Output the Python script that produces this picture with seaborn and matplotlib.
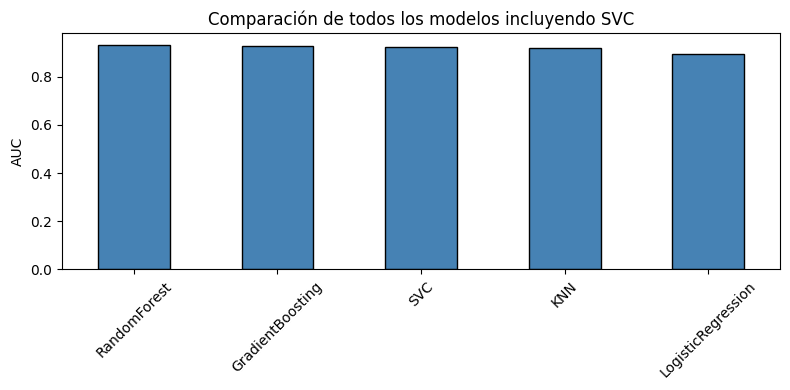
import matplotlib
matplotlib.use("Agg")
import matplotlib.pyplot as plt
import seaborn as sns
import pandas as pd

models = ["RandomForest", "GradientBoosting", "SVC", "KNN", "LogisticRegression"]
auc = [0.934, 0.930, 0.922, 0.921, 0.894]

df = pd.DataFrame({"model": models, "AUC": auc})

fig, ax = plt.subplots(figsize=(7.9, 3.9), dpi=100)
sns.barplot(data=df, x="model", y="AUC", color="steelblue", saturation=1,
            width=0.5, edgecolor="black", linewidth=1, ax=ax)
ax.set_title("Comparación de todos los modelos incluyendo SVC")
ax.set_xlabel("")
ax.set_ylabel("AUC")
ax.set_xlim(-0.5, len(models) - 0.5)
ax.set_ylim(0, max(auc) * 1.05)
ax.tick_params(axis="x", rotation=45)
fig.subplots_adjust(left=62/790, right=780/790, top=1-33.3/390, bottom=1-269.3/390)
fig.savefig("out.png", dpi=100)
